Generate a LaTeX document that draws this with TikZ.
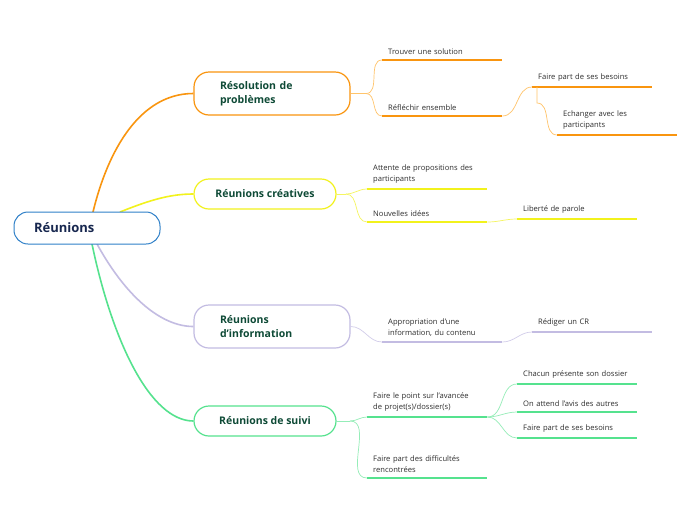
\documentclass[tikz,border=0pt]{standalone}
\usepackage{fontspec}
\setmainfont{Open Sans}
\definecolor{cOr}{HTML}{F9950F}
\definecolor{cOrL}{HTML}{FFC46B}
\definecolor{cYe}{HTML}{F2F21C}
\definecolor{cYeL}{HTML}{F5F560}
\definecolor{cLa}{HTML}{C3BCE2}
\definecolor{cLaL}{HTML}{D2CDEA}
\definecolor{cGr}{HTML}{55E28E}
\definecolor{cGrL}{HTML}{95EDB8}
\definecolor{cBl}{HTML}{2F80C8}
\definecolor{cNavy}{HTML}{17274F}
\definecolor{cDk}{HTML}{0E4A36}
\definecolor{cTx}{HTML}{2E2E2E}
\tikzset{
  rootbox/.style={draw=cBl, line width=1pt, rounded corners=14pt, minimum width=146pt, minimum height=32pt, inner xsep=20pt, text=cNavy, font=\fontsize{13}{15}\selectfont\bfseries, align=left, text width=106pt},
  brbox/.style={draw=#1, line width=1.2pt, fill=white, rounded corners=15pt, text=cDk, font=\fontsize{10.5}{14}\selectfont\bfseries},
  leaf/.style={anchor=south west, inner xsep=6pt, inner ysep=5pt, text width=108pt, align=left, text=cTx, font=\fontsize{7.6}{11}\selectfont},
  leafline/.style={draw=#1, line width=1.8pt},
  main/.style={draw=#1, line width=1.6pt},
  sub/.style={draw=#1, line width=0.7pt},
}
\begin{document}
\begin{tikzpicture}[x=1pt,y=-1pt]
\path[use as bounding box, fill=white] (0,0) rectangle (696,520);

% root anchor points
\coordinate (rO) at (93,212);
\coordinate (rY) at (120,212);
\coordinate (rL) at (97,244);
\coordinate (rG) at (92,244);

% branches
\node[brbox=cOr, minimum width=156pt, minimum height=43pt, inner xsep=26pt, text width=104pt, align=left] (res) at (272,93.5) {Résolution de\\problèmes};
\node[brbox=cYe, minimum width=142pt, minimum height=30pt] (cre) at (265,194) {Réunions créatives};
\node[brbox=cLa, minimum width=156pt, minimum height=43pt, inner xsep=26pt, text width=104pt, align=left] (inf) at (272,326.5) {Réunions\\d'information};
\node[brbox=cGr, minimum width=142pt, minimum height=30pt] (sui) at (265,421) {Réunions de suivi};

% main connectors
\draw[main=cOr] (rO) .. controls (108,150) and (140,93.5) .. (res.west);
\draw[main=cYe] (rY) .. controls (150,200) and (170,194) .. (cre.west);
\draw[main=cLa] (rL) .. controls (125,295) and (160,326.5) .. (inf.west);
\draw[main=cGr] (rG) .. controls (112,340) and (150,421) .. (sui.west);

% root
\node[rootbox, fill=white] (root) at (87,228) {Réunions};

% orange leaves
\node[leaf] (ts) at (382,60) {Trouver une solution};
\node[leaf] (re) at (382,116) {Réfléchir ensemble};
\node[leaf] (fp) at (532,87) {Faire part de ses besoins};
\node[leaf] (ec) at (557,135) {Echanger avec les\\participants};
\foreach \n in {ts,re,fp,ec} \draw[leafline=cOr] (\n.south west) -- (\n.south east);
\draw[sub=cOrL] (res.east) -- (366,93.5) coordinate (sO);
\draw[sub=cOrL] (sO) to[out=0,in=180] (ts.south west);
\draw[sub=cOrL] (sO) to[out=0,in=180] (re.south west);
\draw[sub=cOrL] (re.south east) to[out=0,in=180] (fp.south west);
\draw[sub=cOrL] ([xshift=5pt]fp.south west) -- ++(0,16) to[out=0,in=180] (ec.south west);

% yellow leaves
\node[leaf] (at) at (367,189) {Attente de propositions des\\participants};
\node[leaf] (ni) at (367,222) {Nouvelles idées};
\node[leaf] (lp) at (517,219) {Liberté de parole};
\foreach \n in {at,ni,lp} \draw[leafline=cYe] (\n.south west) -- (\n.south east);
\draw[sub=cYeL] (cre.east) -- (346,194) coordinate (sY);
\draw[sub=cYeL] (sY) to[out=0,in=180] (at.south west);
\draw[sub=cYeL] (sY) to[out=0,in=180] (ni.south west);
\draw[sub=cYeL] (ni.south east) to[out=0,in=180] (lp.south west);

% lavender leaves
\node[leaf] (ap) at (382,342) {Appropriation d'une\\information, du contenu};
\node[leaf] (rc) at (532,332) {Rédiger un CR};
\foreach \n in {ap,rc} \draw[leafline=cLa] (\n.south west) -- (\n.south east);
\draw[sub=cLaL] (inf.east) to[out=0,in=180] (ap.south west);
\draw[sub=cLaL] (ap.south east) to[out=0,in=180] (rc.south west);

% green leaves
\node[leaf] (fl) at (367,417) {Faire le point sur l'avancée\\de projet(s)/dossier(s)};
\node[leaf] (fd) at (367,478) {Faire part des difficultés\\rencontrées};
\node[leaf] (ch) at (517,384) {Chacun présente son dossier};
\node[leaf] (oa) at (517,412) {On attend l'avis des autres};
\node[leaf] (fb) at (517,438) {Faire part de ses besoins};
\foreach \n in {fl,fd,ch,oa,fb} \draw[leafline=cGr] (\n.south west) -- (\n.south east);
\draw[sub=cGrL] (sui.east) -- (350,421) coordinate (sG);
\draw[sub=cGrL] (sG) to[out=0,in=180] (fl.south west);
\draw[sub=cGrL] (sG) to[out=0,in=180] (fd.south west);
\draw[sub=cGrL] (fl.south east) to[out=0,in=180] (ch.south west);
\draw[sub=cGrL] (fl.south east) to[out=0,in=180] (oa.south west);
\draw[sub=cGrL] (fl.south east) to[out=0,in=180] (fb.south west);
\end{tikzpicture}
\end{document}
